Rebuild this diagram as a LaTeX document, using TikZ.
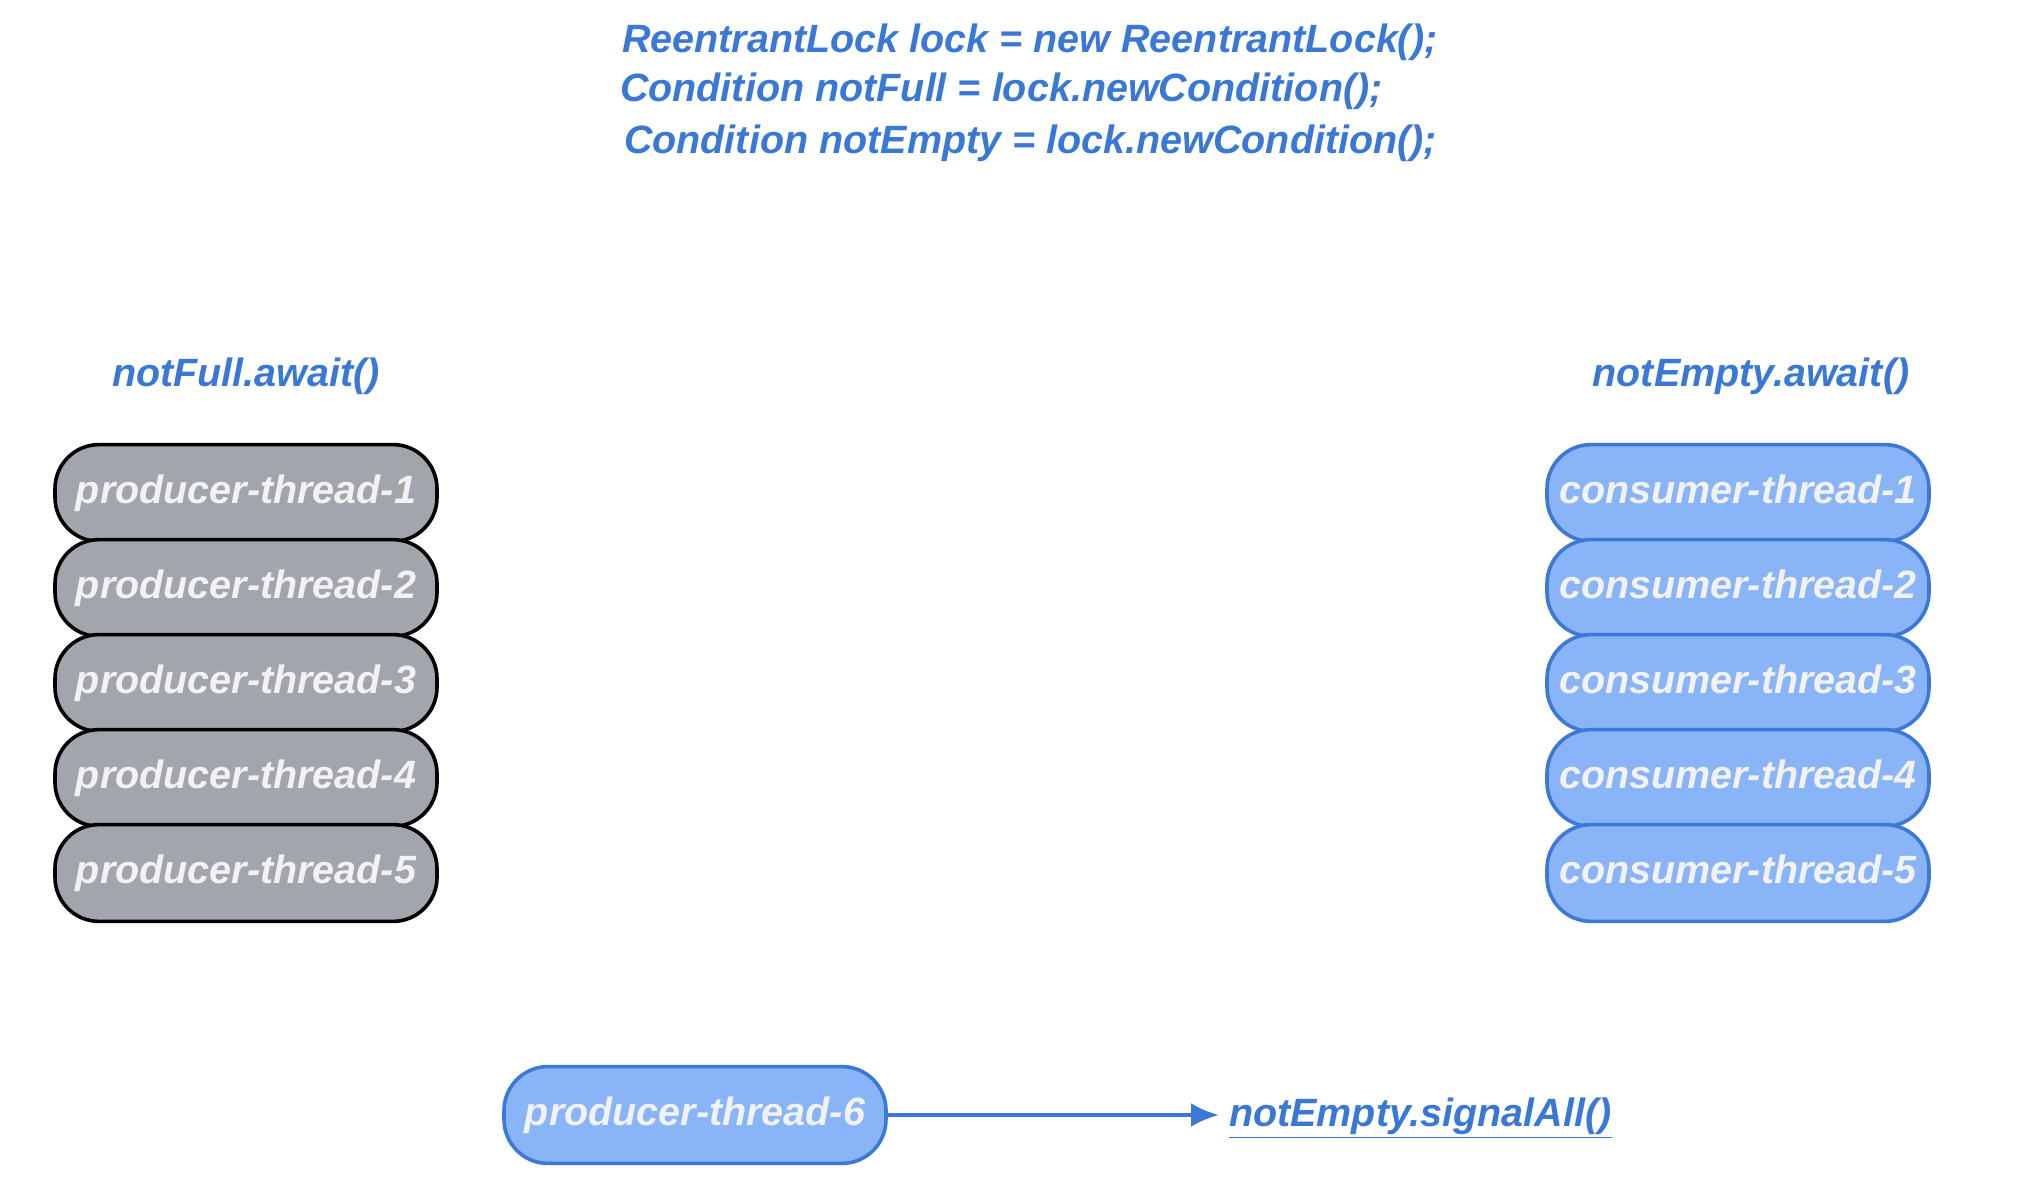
\documentclass[tikz,border=0pt]{standalone}
\usepackage{fontspec}
\setmainfont{Liberation Sans}
\usepackage{xcolor}
\usepackage{tikz}
\usetikzlibrary{positioning,arrows.meta}

\definecolor{codeblue}{RGB}{58,120,214}
\definecolor{lightblue}{RGB}{138,180,248}
\definecolor{edgeblue}{RGB}{60,120,216}
\definecolor{waitgrey}{RGB}{162,165,172}
\definecolor{threadwhite}{RGB}{242,242,242}

\tikzset{
	code/.style={text=codeblue, font=\fontsize{19.75}{24}\selectfont\bfseries\itshape},
	thread/.style={rectangle, rounded corners=22pt, minimum width=191pt, minimum height=48.4pt,
		inner sep=0pt, text height=14.5pt, text depth=4.5pt, text=threadwhite,
		font=\fontsize{19.75}{24}\selectfont\bfseries\itshape},
	waiting/.style={thread, draw=black, fill=waitgrey, line width=1.8pt},
	running/.style={thread, draw=edgeblue, fill=lightblue, line width=1.8pt},
	signal/.style={-{Latex[length=14pt,width=12pt]}, draw=edgeblue, line width=2pt}
}

\begin{document}
\begin{tikzpicture}[x=0.5pt, y=-0.5pt]
	\useasboundingbox (0,0) rectangle (2040,1198);
	\node[code, anchor=west] (lock) at (615,42) {ReentrantLock lock = new ReentrantLock();};
	\node[code, anchor=west] (full) at (613,91) {Condition notFull = lock.newCondition();};
	\node[code, anchor=west] (empty) at (617,143) {Condition notEmpty = lock.newCondition();};
	\node[code] (pwait) at (246,376) {notFull.await()};
	\node[code] (cwait) at (1751,376) {notEmpty.await()};
	\node[waiting] (p1) at (246,493) {producer-thread-1};
	\node[waiting] (p2) at (246,588) {producer-thread-2};
	\node[waiting] (p3) at (246,683) {producer-thread-3};
	\node[waiting] (p4) at (246,778) {producer-thread-4};
	\node[waiting] (p5) at (246,873) {producer-thread-5};
	\node[running] (c1) at (1738,493) {consumer-thread-1};
	\node[running] (c2) at (1738,588) {consumer-thread-2};
	\node[running] (c3) at (1738,683) {consumer-thread-3};
	\node[running] (c4) at (1738,778) {consumer-thread-4};
	\node[running] (c5) at (1738,873) {consumer-thread-5};
	\node[running] (p6) at (695,1115) {producer-thread-6};
	\node[code, anchor=west] (sig) at (1222,1118) {\underline{notEmpty.signalAll()}};
	\draw[signal] (p6) -- ([xshift=-1.5pt]p6 -| sig.west);
\end{tikzpicture}
\end{document}
